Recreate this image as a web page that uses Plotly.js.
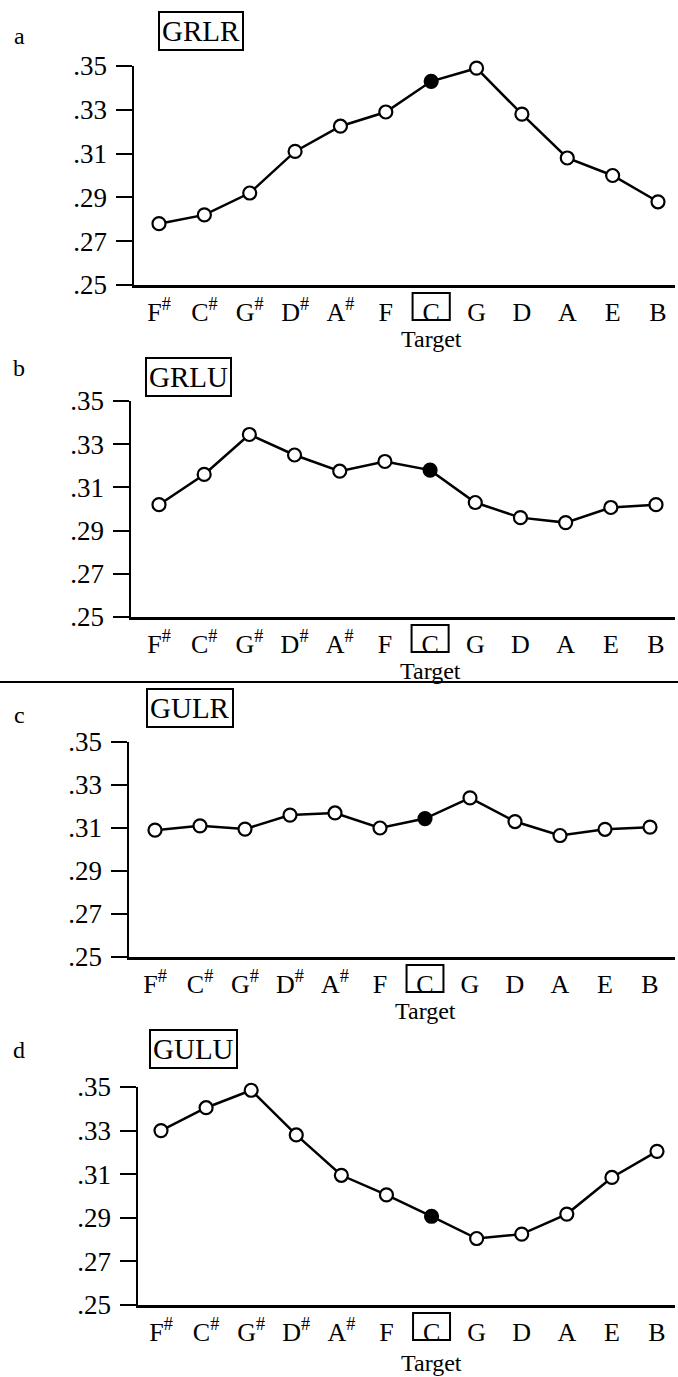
<!DOCTYPE html>
<html>
<head>
<meta charset="utf-8">
<script src="https://cdn.plot.ly/plotly-3.0.1.min.js"></script>
<style>
  html, body { margin: 0; padding: 0; background: #fff; }
  #chart { width: 678px; height: 1377px; }
</style>
</head>
<body>
<div id="chart"></div>
<script>
// ---- data ----
var categories = ['F#', 'C#', 'G#', 'D#', 'A#', 'F', 'C', 'G', 'D', 'A', 'E', 'B'];
var tickLabels = ['F<sup>#</sup>', 'C<sup>#</sup>', 'G<sup>#</sup>', 'D<sup>#</sup>', 'A<sup>#</sup>', 'F', 'C', 'G', 'D', 'A', 'E', 'B'];
var targetKey = 'C';
var panelLetters = ['a', 'b', 'c', 'd'];
var conditionNames = ['GRLR', 'GRLU', 'GULR', 'GULU'];
var grlr = [0.278, 0.282, 0.292, 0.311, 0.3225, 0.329, 0.343, 0.349, 0.328, 0.308, 0.300, 0.288];
var grlu = [0.302, 0.316, 0.3345, 0.325, 0.3175, 0.322, 0.318, 0.303, 0.296, 0.2937, 0.3007, 0.302];
var gulr = [0.309, 0.311, 0.3095, 0.316, 0.317, 0.310, 0.3144, 0.324, 0.313, 0.3065, 0.3094, 0.3104];
var gulu = [0.330, 0.3405, 0.3485, 0.328, 0.3095, 0.3005, 0.2907, 0.2805, 0.2825, 0.2917, 0.3085, 0.3205];
var yTickVals = [0.25, 0.27, 0.29, 0.31, 0.33, 0.35];
var yTickLabels = ['.25', '.27', '.29', '.31', '.33', '.35'];
var xTitle = 'Target';

// ---- layout geometry (pixels) ----
var W = 678, H = 1377;
var series = [grlr, grlu, gulr, gulu];
var panels = [
  {axisX: 134, firstX: 159, lastX: 658, top: 66,   bottom: 285,  labelY: 36,   boxX: 201, boxY: 31,   targetY: 339},
  {axisX: 131, firstX: 159, lastX: 656, top: 401,  bottom: 617,  labelY: 368,  boxX: 188, boxY: 377,  targetY: 671},
  {axisX: 129, firstX: 155, lastX: 650, top: 742,  bottom: 957,  labelY: 715,  boxX: 190, boxY: 708,  targetY: 1011},
  {axisX: 138, firstX: 161, lastX: 657, top: 1087, bottom: 1305, labelY: 1050, boxX: 193, boxY: 1049, targetY: 1363}
];
var rightEnd = 675;
function px(x) { return x / W; }
function py(y) { return 1 - y / H; }

var serif = 'Liberation Serif, Times New Roman, serif';
var ti = categories.indexOf(targetKey);
var xIdx = categories.map(function (c, i) { return i; });
var markerFill = categories.map(function (c) { return c === targetKey ? '#000' : '#fff'; });

var traces = [];
var layout = {
  width: W, height: H,
  margin: {l: 0, r: 0, t: 0, b: 0},
  paper_bgcolor: '#fff', plot_bgcolor: 'rgba(0,0,0,0)',
  showlegend: false,
  annotations: [],
  shapes: []
};

panels.forEach(function (p, k) {
  var n = k === 0 ? '' : String(k + 1);
  var s = (p.lastX - p.firstX) / (categories.length - 1);
  var xr0 = -(p.firstX - p.axisX) / s;
  var xr1 = (categories.length - 1) + (rightEnd - p.lastX) / s;
  var hPx = p.bottom - p.top;
  traces.push({
    type: 'scatter', mode: 'lines+markers',
    x: xIdx, y: series[k],
    xaxis: 'x' + n, yaxis: 'y' + n,
    line: {color: '#000', width: 2.5},
    marker: {size: 13, color: markerFill, line: {color: '#000', width: 2.2}, symbol: 'circle'},
    cliponaxis: false,
    hoverinfo: 'skip'
  });
  layout['xaxis' + n] = {
    domain: [px(p.axisX), px(rightEnd)],
    anchor: 'y' + n,
    range: [xr0, xr1],
    tickvals: xIdx, ticktext: tickLabels,
    ticks: '', showgrid: false, zeroline: false,
    showline: true, linecolor: '#000', linewidth: 2.5,
    tickfont: {family: serif, size: 26, color: '#000'},
    ticklabelstandoff: 2,
    fixedrange: true
  };
  layout['yaxis' + n] = {
    domain: [py(p.bottom), py(p.top)],
    anchor: 'x' + n,
    range: [0.25, 0.35],
    tickvals: yTickVals, ticktext: yTickLabels,
    ticks: 'outside', ticklen: 16, tickwidth: 2, tickcolor: '#000',
    showgrid: false, zeroline: false,
    showline: true, linecolor: '#000', linewidth: 2.5,
    tickfont: {family: serif, size: 27, color: '#000'},
    ticklabelstandoff: 3,
    fixedrange: true
  };
  // panel letter
  layout.annotations.push({
    xref: 'paper', yref: 'paper', x: px(19), y: py(p.labelY),
    text: panelLetters[k], showarrow: false,
    font: {family: serif, size: 24, color: '#000'},
    xanchor: 'center', yanchor: 'middle'
  });
  // condition name box
  layout.annotations.push({
    xref: 'paper', yref: 'paper', x: px(p.boxX), y: py(p.boxY),
    text: conditionNames[k], showarrow: false,
    font: {family: serif, size: 29, color: '#000'},
    bordercolor: '#000', borderwidth: 2, borderpad: 2,
    xanchor: 'center', yanchor: 'middle'
  });
  // axis title "Target"
  layout.annotations.push({
    xref: 'x' + n, yref: 'paper', x: ti, y: py(p.targetY),
    text: xTitle, showarrow: false,
    font: {family: serif, size: 24, color: '#000'},
    xanchor: 'center', yanchor: 'middle'
  });
  // box around the target tick label
  layout.shapes.push({
    type: 'rect', xref: 'x' + n, yref: 'y' + n + ' domain',
    x0: ti - 0.41, x1: ti + 0.41, y0: -35 / hPx, y1: -8 / hPx,
    line: {color: '#000', width: 2}, fillcolor: 'rgba(0,0,0,0)'
  });
});

// separator rule between panels b and c
layout.shapes.push({
  type: 'line', xref: 'paper', yref: 'paper',
  x0: 0, x1: 1, y0: py(682), y1: py(682),
  line: {color: '#000', width: 2}
});

Plotly.newPlot('chart', traces, layout, {staticPlot: true, displayModeBar: false});
</script>
</body>
</html>
